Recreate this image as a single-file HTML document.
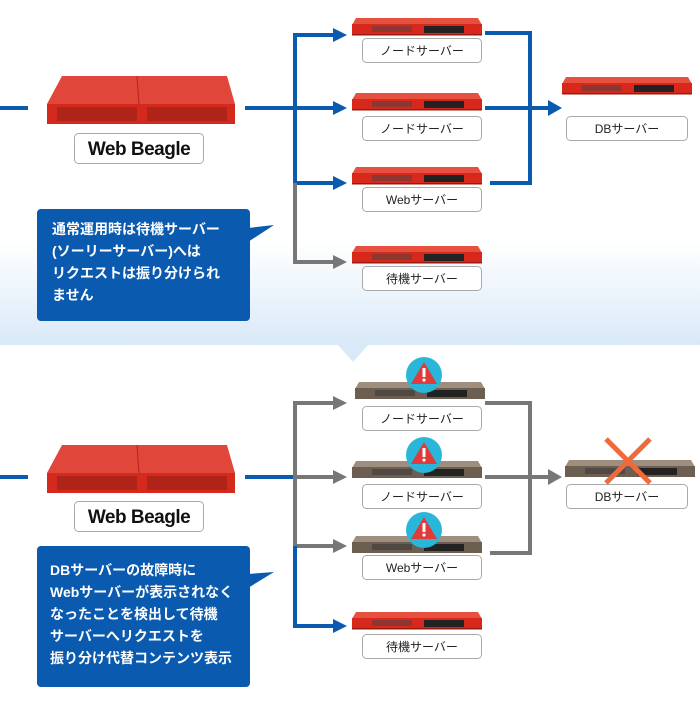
<!DOCTYPE html><html><head><meta charset="utf-8"><style>
body{margin:0;width:700px;height:700px;overflow:hidden;background:#fff}
svg text{font-family:"Liberation Sans","Noto Sans CJK JP",sans-serif}
</style></head><body>
<svg width="700" height="700" viewBox="0 0 700 700" xmlns="http://www.w3.org/2000/svg">
<defs>
<linearGradient id="bg" x1="0" y1="0" x2="0" y2="1"><stop offset="0" stop-color="#fff"/><stop offset="0.7" stop-color="#fff"/><stop offset="1" stop-color="#d9e9f8"/></linearGradient>
<g id="rs"><polygon points="4,0 126,0 130,7 0,7" fill="#e6503f"/><rect x="0" y="6" width="130" height="11" fill="#d8281c"/><rect x="20" y="8" width="40" height="6" fill="#444" opacity=".5"/><rect x="72" y="8" width="40" height="7" fill="#222"/><rect x="0" y="16" width="130" height="1.5" fill="#9a1a10"/></g>
<g id="gs"><polygon points="4,0 126,0 130,7 0,7" fill="#9d8e7e"/><rect x="0" y="6" width="130" height="11" fill="#6c5f52"/><rect x="20" y="8" width="40" height="6" fill="#333" opacity=".5"/><rect x="72" y="8" width="40" height="7" fill="#222"/></g>
<g id="wb"><polygon points="15,0 180,0 188,28 0,28" fill="#e0473a"/><line x1="90" y1="0" x2="92" y2="28" stroke="#b52418"/><rect x="0" y="28" width="188" height="20" fill="#d42a1e"/><rect x="10" y="31" width="80" height="14" fill="#7a1a12" opacity=".4"/><rect x="100" y="31" width="80" height="14" fill="#7a1a12" opacity=".4"/></g>
<g id="warn"><circle r="18" fill="#29b6d8"/><polygon points="0,-13 13,9 -13,9" fill="#e03a3a"/><rect x="-1.5" y="-7" width="3" height="9" fill="#fff"/><circle cy="5" r="1.6" fill="#fff"/></g>
</defs>
<rect width="700" height="345" fill="url(#bg)"/>
<polygon points="338,345 368,345 353,362" fill="#d9e9f8"/>
<!-- top section -->
<line x1="0" y1="108" x2="28" y2="108" stroke="#0a5ab0" stroke-width="4"/>
<use href="#wb" x="47" y="76"/>
<rect x="74.5" y="133.5" width="129" height="30" rx="4" fill="#fff" stroke="#aaa"/>
<text x="139" y="155" font-size="19" font-weight="bold" text-anchor="middle" fill="#111" letter-spacing="-0.5">Web Beagle</text>
<g stroke="#0a5ab0" stroke-width="4" fill="none"><line x1="245" y1="108" x2="295" y2="108"/><polyline points="335,35 295,35 295,183 335,183"/><line x1="295" y1="108" x2="335" y2="108"/></g>
<g fill="#0a5ab0"><polygon points="333,28 347,35 333,42"/><polygon points="333,101 347,108 333,115"/><polygon points="333,176 347,183 333,190"/></g>
<polyline points="295,183 295,262 335,262" stroke="#777" stroke-width="4" fill="none"/><polygon points="333,255 347,262 333,269" fill="#777"/>
<use href="#rs" x="352" y="18"/><use href="#rs" x="352" y="93"/><use href="#rs" x="352" y="167"/><use href="#rs" x="352" y="246"/><use href="#rs" x="562" y="77"/>
<g fill="#fff" stroke="#aaa"><rect x="362.5" y="38.5" width="119" height="24" rx="4"/><rect x="362.5" y="116.5" width="119" height="24" rx="4"/><rect x="362.5" y="187.5" width="119" height="24" rx="4"/><rect x="362.5" y="266.5" width="119" height="24" rx="4"/><rect x="566.5" y="116.5" width="121" height="24" rx="4"/></g>
<g font-size="12" text-anchor="middle" fill="#222"><text x="422" y="55">ノードサーバー</text><text x="422" y="133">ノードサーバー</text><text x="422" y="204">Webサーバー</text><text x="422" y="283">待機サーバー</text><text x="627" y="133">DBサーバー</text></g>
<g stroke="#0a5ab0" stroke-width="4" fill="none"><polyline points="485,33 530,33 530,183 490,183"/><line x1="485" y1="108" x2="550" y2="108"/></g>
<polygon points="548,100 562,108 548,116" fill="#0a5ab0"/>
<rect x="37" y="209" width="213" height="112" rx="4" fill="#0a5ab0"/><polygon points="248,228 274,225 248,242" fill="#0a5ab0"/>
<g font-size="14" font-weight="bold" fill="#fff"><text x="52" y="234">通常運用時は待機サーバー</text><text x="52" y="256">(ソーリーサーバー)へは</text><text x="52" y="278">リクエストは振り分けられ</text><text x="52" y="300">ません</text></g>
<!-- bottom -->
<line x1="0" y1="477" x2="28" y2="477" stroke="#0a5ab0" stroke-width="4"/>
<use href="#wb" x="47" y="445"/>
<rect x="74.5" y="501.5" width="129" height="30" rx="4" fill="#fff" stroke="#aaa"/>
<text x="139" y="523" font-size="19" font-weight="bold" text-anchor="middle" fill="#111" letter-spacing="-0.5">Web Beagle</text>
<line x1="245" y1="477" x2="295" y2="477" stroke="#0a5ab0" stroke-width="4"/>
<g stroke="#777" stroke-width="4" fill="none"><polyline points="335,403 295,403 295,546 335,546"/><line x1="295" y1="477" x2="335" y2="477"/></g>
<g fill="#777"><polygon points="333,396 347,403 333,410"/><polygon points="333,470 347,477 333,484"/><polygon points="333,539 347,546 333,553"/></g>
<polyline points="295,546 295,626 335,626" stroke="#0a5ab0" stroke-width="4" fill="none"/><polygon points="333,619 347,626 333,633" fill="#0a5ab0"/>
<use href="#gs" x="355" y="382"/><use href="#gs" x="352" y="461"/><use href="#gs" x="352" y="536"/><use href="#rs" x="352" y="612"/><use href="#gs" x="565" y="460"/>
<use href="#warn" x="424" y="375"/><use href="#warn" x="424" y="455"/><use href="#warn" x="424" y="530"/>
<g fill="#fff" stroke="#aaa"><rect x="362.5" y="406.5" width="119" height="24" rx="4"/><rect x="362.5" y="484.5" width="119" height="24" rx="4"/><rect x="362.5" y="555.5" width="119" height="24" rx="4"/><rect x="362.5" y="634.5" width="119" height="24" rx="4"/><rect x="566.5" y="484.5" width="121" height="24" rx="4"/></g>
<g font-size="12" text-anchor="middle" fill="#222"><text x="422" y="423">ノードサーバー</text><text x="422" y="501">ノードサーバー</text><text x="422" y="572">Webサーバー</text><text x="422" y="651">待機サーバー</text><text x="627" y="501">DBサーバー</text></g>
<g stroke="#777" stroke-width="4" fill="none"><polyline points="485,403 530,403 530,553 490,553"/><line x1="485" y1="477" x2="550" y2="477"/></g>
<polygon points="548,469 562,477 548,485" fill="#777"/>
<g stroke="#ee6a3a" stroke-width="5"><line x1="606" y1="439" x2="650" y2="483"/><line x1="650" y1="439" x2="606" y2="483"/></g>
<rect x="37" y="546" width="213" height="141" rx="4" fill="#0a5ab0"/><polygon points="248,574 274,572 248,588" fill="#0a5ab0"/>
<g font-size="14" font-weight="bold" fill="#fff"><text x="50" y="575">DBサーバーの故障時に</text><text x="50" y="597">Webサーバーが表示されなく</text><text x="50" y="619">なったことを検出して待機</text><text x="50" y="641">サーバーへリクエストを</text><text x="50" y="663">振り分け代替コンテンツ表示</text></g>
</svg></body></html>
